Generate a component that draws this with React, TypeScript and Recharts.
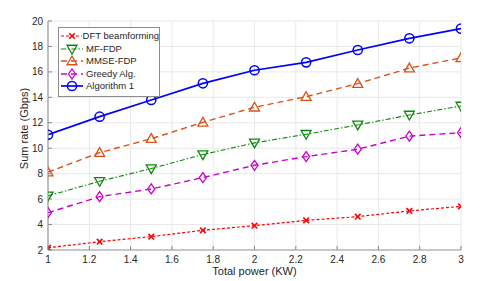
import React from 'react';
import { LineChart, Line, XAxis, YAxis, CartesianGrid, Label } from 'recharts';

const power = [1, 1.25, 1.5, 1.75, 2, 2.25, 2.5, 2.75, 3];
const dft = [2.18, 2.65, 3.05, 3.55, 3.91, 4.33, 4.62, 5.07, 5.43];
const mf = [6.25, 7.4, 8.4, 9.5, 10.42, 11.1, 11.83, 12.61, 13.32];
const mmse = [8.12, 9.65, 10.75, 12.03, 13.22, 14.05, 15.08, 16.3, 17.1];
const greedy = [4.93, 6.19, 6.8, 7.69, 8.66, 9.34, 9.92, 10.95, 11.22];
const algo = [11.06, 12.48, 13.79, 15.1, 16.13, 16.75, 17.72, 18.64, 19.4];

const xTicks = [1, 1.2, 1.4, 1.6, 1.8, 2, 2.2, 2.4, 2.6, 2.8, 3];
const yTicks = [2, 4, 6, 8, 10, 12, 14, 16, 18, 20];

const data = power.map((p, i) => ({
  p,
  dft: dft[i],
  mf: mf[i],
  mmse: mmse[i],
  greedy: greedy[i],
  algo: algo[i],
}));

const FONT = '"Liberation Sans", Arial, Helvetica, sans-serif';
const TXT = '#262626';

const C_DFT = '#FF0000';
const C_MF = '#0A8A0A';
const C_MMSE = '#D95319';
const C_GREEDY = '#CC00CC';
const C_ALGO = '#0000FF';

type MK = 'x' | 'down' | 'up' | 'diamond' | 'circle';

function Marker({ kind, cx, cy, color }: { kind: MK; cx: number; cy: number; color: string }) {
  if (cx == null || cy == null) return null;
  const sw = 1.3;
  if (kind === 'x') {
    const r = 2.8;
    return (
      <g stroke={color} strokeWidth={1.6} fill="none">
        <line x1={cx - r} y1={cy - r} x2={cx + r} y2={cy + r} />
        <line x1={cx - r} y1={cy + r} x2={cx + r} y2={cy - r} />
      </g>
    );
  }
  if (kind === 'circle') {
    return <circle cx={cx} cy={cy} r={4.6} stroke={color} strokeWidth={1.5} fill="none" />;
  }
  if (kind === 'up') {
    const r = 5;
    return (
      <polygon
        points={`${cx},${cy - r} ${cx - r},${cy + r * 0.75} ${cx + r},${cy + r * 0.75}`}
        stroke={color}
        strokeWidth={sw}
        fill="none"
      />
    );
  }
  if (kind === 'down') {
    const r = 5;
    return (
      <polygon
        points={`${cx},${cy + r} ${cx - r},${cy - r * 0.75} ${cx + r},${cy - r * 0.75}`}
        stroke={color}
        strokeWidth={sw}
        fill="none"
      />
    );
  }
  const r = 5;
  return (
    <polygon
      points={`${cx},${cy - r} ${cx + r * 0.7},${cy} ${cx},${cy + r} ${cx - r * 0.7},${cy}`}
      stroke={color}
      strokeWidth={sw}
      fill="none"
    />
  );
}

const series: { key: string; name: string; color: string; dash: string; kind: MK; width: number }[] = [
  { key: 'dft', name: 'DFT beamforming', color: C_DFT, dash: '3 2', kind: 'x', width: 1.2 },
  { key: 'mf', name: 'MF-FDP', color: C_MF, dash: '5 2 1.5 2', kind: 'down', width: 1.1 },
  { key: 'mmse', name: 'MMSE-FDP', color: C_MMSE, dash: '6 4', kind: 'up', width: 1.4 },
  { key: 'greedy', name: 'Greedy Alg.', color: C_GREEDY, dash: '6 4', kind: 'diamond', width: 1.4 },
  { key: 'algo', name: 'Algorithm 1', color: C_ALGO, dash: '', kind: 'circle', width: 1.7 },
];

const X_MARGIN = 13;
const XTick = (props: any) => {
  const { x, y, payload } = props;
  return (
    <g>
      <line x1={x} y1={y - X_MARGIN} x2={x} y2={y - X_MARGIN - 4} stroke="#888" strokeWidth={1} />
      <text x={x} y={y} textAnchor="middle" fontSize={10} fill={TXT} fontFamily={FONT}>
        {payload.value}
      </text>
    </g>
  );
};

const YTick = (props: any) => {
  const { x, y, payload } = props;
  return (
    <g>
      <line x1={x + 5} y1={y} x2={x + 9} y2={y} stroke="#888" strokeWidth={1} />
      <text x={x} y={y} dy="0.36em" textAnchor="end" fontSize={10} fill={TXT} fontFamily={FONT}>
        {payload.value}
      </text>
    </g>
  );
};

const TopTick = (props: any) => {
  const { x, y } = props;
  return <line x1={x} y1={y} x2={x} y2={y + 4} stroke="#888" strokeWidth={1} />;
};

const RightTick = (props: any) => {
  const { x, y } = props;
  return <line x1={x} y1={y} x2={x - 4} y2={y} stroke="#888" strokeWidth={1} />;
};

const LegendBox = () => (
  <div
    style={{
      position: 'absolute',
      left: 58,
      top: 27,
      border: '1px solid #8c8c8c',
      background: '#fff',
      width: 100,
      padding: '2px 0 3px 0',
      fontFamily: FONT,
      fontSize: 9.5,
      color: TXT,
      lineHeight: '12.5px',
    }}
  >
    {series.map((s) => (
      <div key={s.key} style={{ display: 'flex', alignItems: 'center', height: 12.5 }}>
        <svg width={26} height={12} style={{ display: 'block' }}>
          <line
            x1={2}
            y1={6}
            x2={24}
            y2={6}
            stroke={s.color}
            strokeWidth={s.width}
            strokeDasharray={s.dash || undefined}
          />
          <Marker kind={s.kind} cx={13} cy={6} color={s.color} />
        </svg>
        <span style={{ marginLeft: 1, whiteSpace: 'nowrap' }}>{s.name}</span>
      </div>
    ))}
  </div>
);

export default function App() {
  return (
    <div style={{ position: 'absolute', left: 0, top: 0, width: 491, height: 281, background: '#fff' }}>
      <LineChart width={491} height={281} data={data} margin={{ top: 21, right: 30, bottom: 0, left: 0 }}>
        <CartesianGrid stroke="#e8e8e8" strokeWidth={1} />
        <XAxis
          dataKey="p"
          type="number"
          domain={[1, 3]}
          ticks={xTicks}
          interval={0}
          height={31}
          tickSize={0}
          tickMargin={X_MARGIN}
          tick={<XTick />}
          axisLine={{ stroke: '#9a9a9a', strokeWidth: 1.2 }}
          tickLine={false}
          allowDataOverflow
        >
          <Label
            content={(p: any) => {
              const vb = p.viewBox;
              return (
                <text
                  x={vb.x + vb.width / 2}
                  y={vb.y + 25}
                  textAnchor="middle"
                  fontSize={11}
                  fill={TXT}
                  fontFamily={FONT}
                >
                  Total power (KW)
                </text>
              );
            }}
          />
        </XAxis>
        <XAxis
          xAxisId="top"
          orientation="top"
          dataKey="p"
          type="number"
          domain={[1, 3]}
          ticks={xTicks}
          interval={0}
          height={0}
          tickSize={0}
          tick={<TopTick />}
          axisLine={{ stroke: '#9a9a9a', strokeWidth: 1.2 }}
          tickLine={false}
        />
        <YAxis
          type="number"
          domain={[2, 20]}
          ticks={yTicks}
          interval={0}
          width={48}
          tickSize={0}
          tickMargin={5}
          tick={<YTick />}
          axisLine={{ stroke: '#9a9a9a', strokeWidth: 1.2 }}
          tickLine={false}
          allowDataOverflow
        >
          <Label
            content={(p: any) => {
              const vb = p.viewBox;
              const cx = vb.x + 24;
              const cy = vb.y + vb.height / 2 - 7;
              return (
                <text
                  x={cx}
                  y={cy}
                  textAnchor="middle"
                  dominantBaseline="central"
                  transform={`rotate(-90 ${cx} ${cy})`}
                  fontSize={11}
                  fill={TXT}
                  fontFamily={FONT}
                >
                  Sum rate (Gbps)
                </text>
              );
            }}
          />
        </YAxis>
        <YAxis
          yAxisId="right"
          orientation="right"
          type="number"
          domain={[2, 20]}
          ticks={yTicks}
          interval={0}
          width={0}
          tickSize={0}
          tick={<RightTick />}
          axisLine={{ stroke: '#9a9a9a', strokeWidth: 1.2 }}
          tickLine={false}
        />
        {series.map((s) => (
          <Line
            key={s.key}
            type="linear"
            dataKey={s.key}
            name={s.name}
            stroke={s.color}
            strokeWidth={s.width}
            strokeDasharray={s.dash || undefined}
            isAnimationActive={false}
            dot={(props: any) => (
              <Marker key={`${s.key}-${props.index}`} kind={s.kind} cx={props.cx} cy={props.cy} color={s.color} />
            )}
            activeDot={false}
          />
        ))}
      </LineChart>
      <LegendBox />
    </div>
  );
}
